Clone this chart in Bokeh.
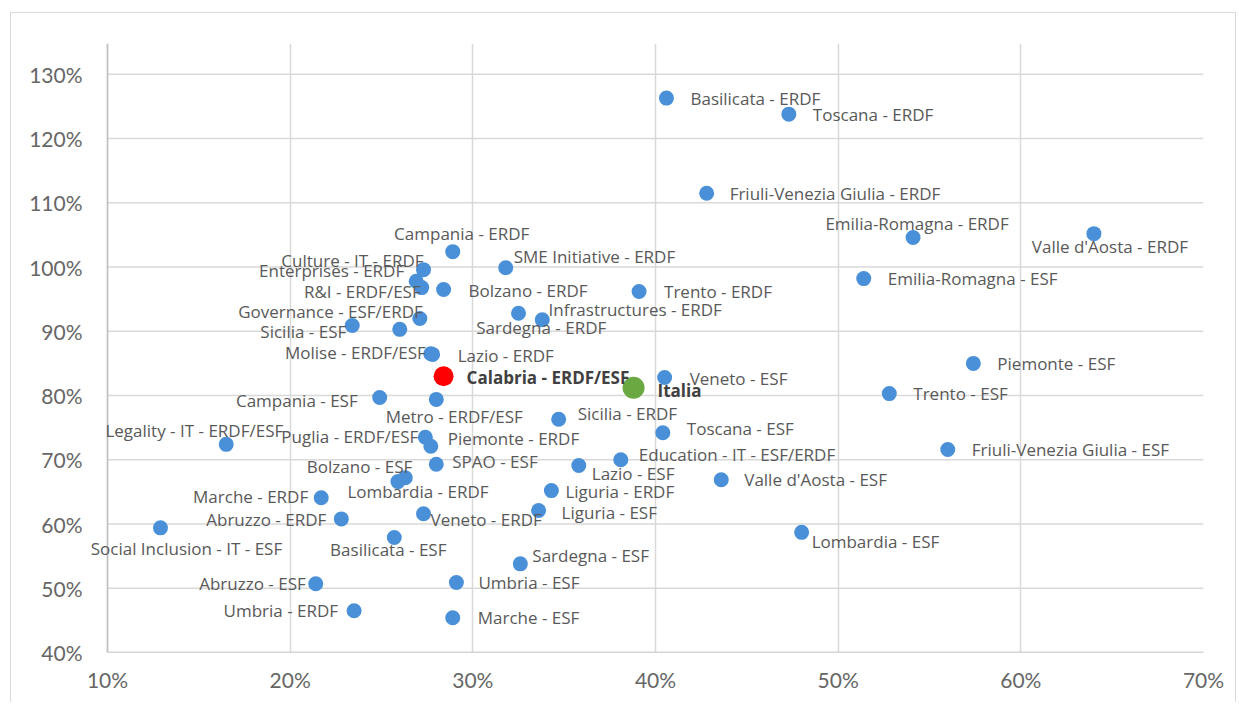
from bokeh.plotting import figure
from bokeh.models import ColumnDataSource, FixedTicker, NumeralTickFormatter, Range1d, LabelSet, Span
from bokeh.core.properties import field, value
from bokeh.embed import file_html
from bokeh.resources import INLINE

# ---------------- data ----------------
names = [
    "Basilicata - ERDF", "Toscana - ERDF", "Friuli-Venezia Giulia - ERDF",
    "Emilia-Romagna - ERDF", "Valle d'Aosta - ERDF", "Emilia-Romagna - ESF",
    "Campania - ERDF", "SME Initiative - ERDF", "Culture - IT - ERDF",
    "Enterprises - ERDF", "R&I - ERDF/ESF", "Bolzano - ERDF", "Trento - ERDF",
    "Infrastructures - ERDF", "Sardegna - ERDF", "Governance - ESF/ERDF",
    "Sicilia - ESF", "", "Molise - ERDF/ESF", "Lazio - ERDF", "Veneto - ESF",
    "Campania - ESF", "Metro - ERDF/ESF", "Piemonte - ESF", "Trento - ESF",
    "Sicilia - ERDF", "Toscana - ESF", "Legality - IT - ERDF/ESF",
    "Puglia - ERDF/ESF", "Piemonte - ERDF", "SPAO - ESF", "Bolzano - ESF",
    "Lombardia - ERDF", "Education - IT - ESF/ERDF", "Lazio - ESF",
    "Valle d'Aosta - ESF", "Friuli-Venezia Giulia - ESF", "Marche - ERDF",
    "Liguria - ERDF", "Liguria - ESF", "Veneto - ERDF", "Abruzzo - ERDF",
    "Social Inclusion - IT - ESF", "Basilicata - ESF", "Lombardia - ESF",
    "Sardegna - ESF", "Umbria - ESF", "Abruzzo - ESF", "Umbria - ERDF",
    "Marche - ESF",
]
x_pct = [
    40.6, 47.3, 42.8, 54.1, 64.0, 51.4, 28.9, 31.8, 27.3, 26.9, 27.2, 28.4, 39.1,
    32.5, 33.8, 27.1, 23.4, 26.0, 27.7, 27.8, 40.5, 24.9, 28.0, 57.4, 52.8, 34.7,
    40.4, 16.5, 27.4, 27.7, 28.0, 26.3, 25.9, 38.1, 35.8, 43.6, 56.0, 21.7, 34.3,
    33.6, 27.3, 22.8, 12.9, 25.7, 48.0, 32.6, 29.1, 21.4, 23.5, 28.9,
]
y_pct = [
    126.3, 123.8, 111.5, 104.6, 105.2, 98.2, 102.4, 99.9, 99.6, 97.8, 96.8, 96.5,
    96.2, 92.8, 91.8, 92.0, 90.9, 90.3, 86.5, 86.4, 82.8, 79.7, 79.4, 85.0, 80.3,
    76.3, 74.2, 72.4, 73.5, 72.1, 69.3, 67.2, 66.6, 70.0, 69.1, 66.9, 71.6, 64.1,
    65.2, 62.1, 61.6, 60.8, 59.4, 57.9, 58.7, 53.8, 50.9, 50.7, 46.5, 45.4,
]

calabria_name = ["Calabria - ERDF/ESF"]
calabria_x = [28.4]
calabria_y = [83.0]
italia_name = ["Italia"]
italia_x = [38.8]
italia_y = [81.2]

x_ticks = [0.1, 0.2, 0.3, 0.4, 0.5, 0.6, 0.7]
y_ticks = [0.4, 0.5, 0.6, 0.7, 0.8, 0.9, 1.0, 1.1, 1.2, 1.3]
X_MIN, X_MAX = 0.10, 0.70

# ---------------- label placement (screen px offsets; +dy = down) ----------------
lab_dx = [24, 24, 23, 4, 16, 24, 9, 8, 0, -12, -1, 25, 25, 30, -1, 3, -6, 0, -5, 25,
          25, -22, 18, 24, 24, 19, 24, 57, -7, 17, 16, 7, 20, 18, 13, 23, 24, -13,
          14, 23, 7, -15, 26, -6, 10, 12, 22, -10, -16, 25]
lab_dy = [0, 0, 0, -14, 13, 0, -18, -11, -9, -11, 4, 1, 0, -4, 8, -7, 6, 0, -1, 1,
          1, 3, 17, 0, 0, -6, -4, -14, -1, -8, -3, -11, 10, -5, 8, 0, 0, -1,
          1, 2, 6, 1, 21, 12, 9, -8, 0, 0, 0, 0]
lab_align = ["left", "left", "left", "center", "center", "left", "center", "left",
             "right", "right", "right", "left", "left", "left", "center", "right",
             "right", "left", "right", "left", "left", "right", "center", "left",
             "left", "left", "left", "right", "right", "left", "left", "right",
             "center", "left", "left", "left", "left", "right", "left", "left",
             "left", "right", "center", "center", "left", "left", "left", "right",
             "right", "left"]

src = ColumnDataSource(dict(
    x=[v / 100 for v in x_pct], y=[v / 100 for v in y_pct], label=names,
    dx=lab_dx, dy=[-d for d in lab_dy], align=lab_align,
))
src_cal = ColumnDataSource(dict(x=[v / 100 for v in calabria_x],
                                y=[v / 100 for v in calabria_y], label=calabria_name))
src_ita = ColumnDataSource(dict(x=[v / 100 for v in italia_x],
                                y=[v / 100 for v in italia_y], label=italia_name))

TICK_FONT = "Lato"
LABEL_FONT = "Open Sans"
LABEL_SIZE = "17px"
GRID = "#d9d9d9"
AXIS = "#bfbfbf"

# frame extends a few px left of the 10% axis so that labels there are not clipped
PAD_PX = 17
PAD = PAD_PX / (1096 / (X_MAX - X_MIN))

p = figure(
    width=1226, height=690, output_backend="svg", toolbar_location=None,
    x_range=Range1d(X_MIN - PAD, X_MAX), y_range=Range1d(0.40, 1.348),
    min_border_left=96 - PAD_PX, min_border_right=34, min_border_top=30,
    min_border_bottom=51, margin=(12, 0, 0, 10),
)
p.styles = {"border-left": "1px solid #d9d9d9", "border-top": "1px solid #d9d9d9",
            "border-right": "1px solid #d9d9d9"}
p.outline_line_color = None
p.background_fill_color = "white"
p.border_fill_color = "white"

p.xaxis.ticker = FixedTicker(ticks=x_ticks)
p.yaxis.ticker = FixedTicker(ticks=y_ticks)
for ax in (p.xaxis, p.yaxis):
    ax.formatter = NumeralTickFormatter(format="0%")
    ax.major_tick_line_color = None
    ax.minor_tick_line_color = None
    ax.axis_line_color = None
    ax.major_label_text_font = TICK_FONT
    ax.major_label_text_font_size = "21px"
    ax.major_label_text_color = "#666666"
p.xaxis.major_label_standoff = 8
p.yaxis.major_label_standoff = 2

# vertical grid from the library, horizontal grid drawn only across 10%..70%
p.xgrid.ticker = FixedTicker(ticks=x_ticks)
p.xgrid.grid_line_color = GRID
p.xgrid.grid_line_width = 1.5
p.ygrid.visible = False
p.segment(x0=[X_MIN] * len(y_ticks), x1=[X_MAX] * len(y_ticks), y0=y_ticks, y1=y_ticks,
          line_color=GRID, line_width=1.5)
# axis lines
p.segment(x0=[X_MIN], x1=[X_MAX], y0=[y_ticks[0]], y1=[y_ticks[0]],
          line_color=AXIS, line_width=1.5)
p.add_layout(Span(location=X_MIN, dimension="height", line_color=AXIS, line_width=1.5))

p.scatter("x", "y", source=src, size=15, fill_color="#4a90d9", line_color=None)
p.scatter("x", "y", source=src_cal, size=20, fill_color="#ff0000", line_color=None)
p.scatter("x", "y", source=src_ita, size=22, fill_color="#6aa842", line_color=None)

p.add_layout(LabelSet(x="x", y="y", text="label", source=src,
                      x_offset="dx", y_offset="dy", text_align=field("align"),
                      text_baseline="middle", text_font=value(LABEL_FONT),
                      text_font_size=LABEL_SIZE, text_color="#595959"))
p.add_layout(LabelSet(x="x", y="y", text="label", source=src_cal,
                      x_offset=23, y_offset=-1, text_align="left",
                      text_baseline="middle", text_font=value(LABEL_FONT),
                      text_font_size=LABEL_SIZE, text_font_style="bold",
                      text_color="#404040"))
p.add_layout(LabelSet(x="x", y="y", text="label", source=src_ita,
                      x_offset=24, y_offset=-3, text_align="left",
                      text_baseline="middle", text_font=value(LABEL_FONT),
                      text_font_size=LABEL_SIZE, text_font_style="bold",
                      text_color="#404040"))

open("out.html", "w").write(file_html(p, INLINE))
